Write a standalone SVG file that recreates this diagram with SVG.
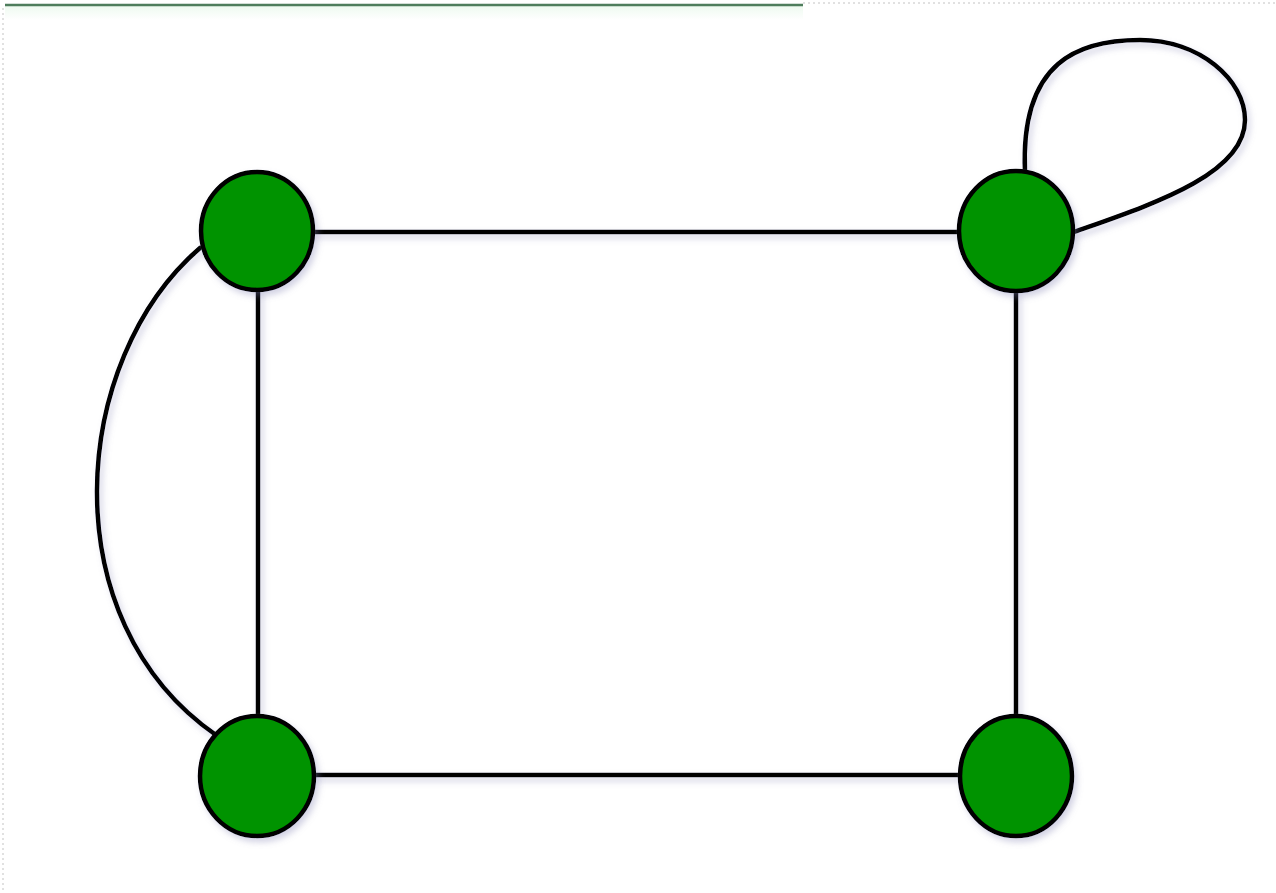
<svg xmlns="http://www.w3.org/2000/svg" width="1276" height="893" viewBox="0 0 1276 893">
<style>
.edge{fill:none;stroke:#000;stroke-width:4.5;stroke-linecap:round}
.node{fill:#009300;stroke:#000;stroke-width:4.5}
.frame{stroke:#d8d8d8;stroke-width:1.5;stroke-dasharray:2 3;fill:none}
</style>
<defs>
<filter id="sh" x="-20%" y="-20%" width="140%" height="140%">
<feDropShadow dx="3" dy="4" stdDeviation="3" flood-color="#8080b0" flood-opacity="0.35"/>
</filter>
<linearGradient id="g" x1="0" y1="0" x2="0" y2="1">
<stop offset="0" stop-color="#eefaf0"/>
<stop offset="1" stop-color="#ffffff"/>
</linearGradient>
</defs>
<rect width="1276" height="893" fill="#fff"/>
<rect x="5" y="6" width="798" height="14" fill="url(#g)"/>
<line x1="803" y1="3" x2="1276" y2="3" class="frame"/>
<line x1="3" y1="8" x2="3" y2="893" class="frame"/>
<line x1="5" y1="5" x2="803" y2="5" stroke="#4e7d5c" stroke-width="2.5"/>
<g id="connectors" filter="url(#sh)">
<line class="edge" x1="314" y1="232" x2="958" y2="232"/>
<line class="edge" x1="314" y1="775" x2="958" y2="775"/>
<line class="edge" x1="258" y1="290" x2="258" y2="716"/>
<line class="edge" x1="1016" y1="292" x2="1016" y2="716"/>
<path class="edge" d="M 200 248 C 70 360, 50 620, 216 735"/>
<path class="edge" d="M 1025 172 C 1020 60, 1080 40, 1140 40 C 1200 40, 1245 80, 1245 120 C 1245 175, 1150 205, 1074 232"/>
</g>
<g id="node-top-left" filter="url(#sh)"><ellipse class="node" cx="257" cy="231" rx="56" ry="59"/></g>
<g id="node-top-right" filter="url(#sh)"><ellipse class="node" cx="1016" cy="231" rx="57" ry="60"/></g>
<g id="node-bottom-left" filter="url(#sh)"><ellipse class="node" cx="257" cy="776" rx="57" ry="60"/></g>
<g id="node-bottom-right" filter="url(#sh)"><ellipse class="node" cx="1016" cy="776" rx="56" ry="60"/></g>
</svg>
